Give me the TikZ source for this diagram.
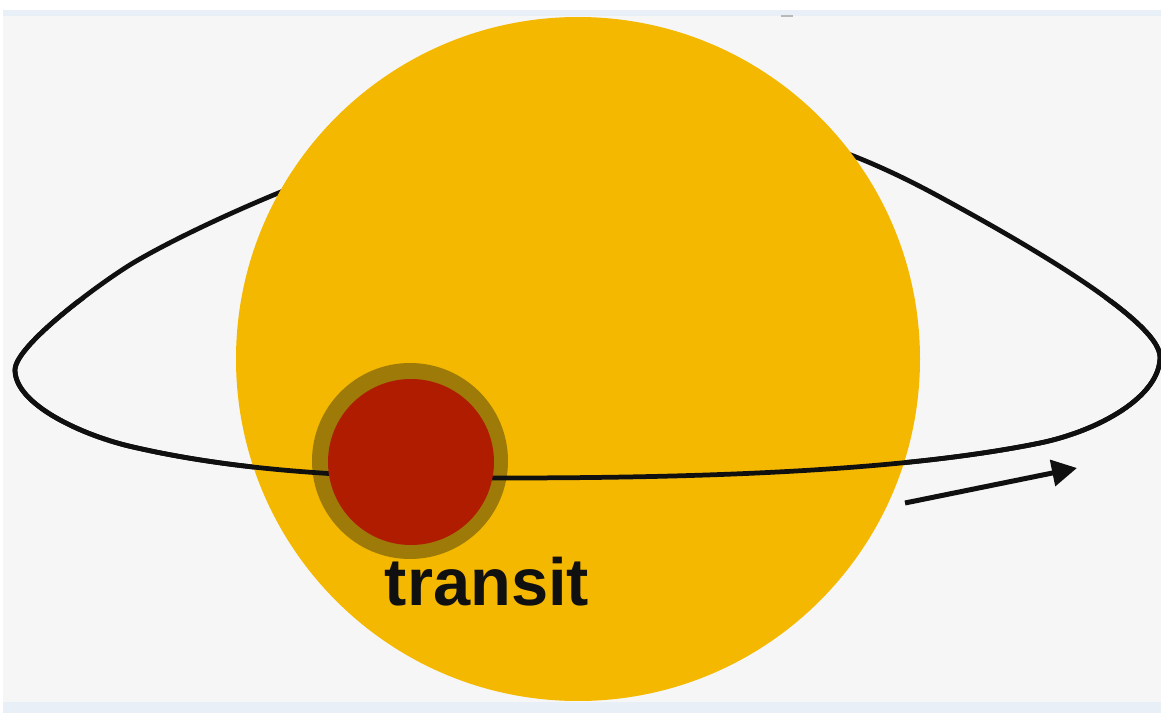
\documentclass[tikz,border=0pt]{standalone}
\usepackage{fontspec}
\newfontfamily\labelfont{Liberation Sans}
\usetikzlibrary{arrows.meta}
\definecolor{sky}{HTML}{F6F6F6}
\definecolor{band}{HTML}{E9EFF6}
\definecolor{star}{HTML}{F5B800}
\definecolor{halo}{HTML}{9E7B08}
\definecolor{planet}{HTML}{B01C00}
\definecolor{ink}{HTML}{101010}

% the orbit as one closed loop (pixel-like units, y down)
\newcommand{\orbitloop}{%
  \draw[orbit] (15,370)
    .. controls (15,345) and (103,281) .. (133,263)
    .. controls (210,217) and (450,110) .. (600,110)
    .. controls (750,110) and (852,149) .. (940,197)
    .. controls (993,226) and (1160,317) .. (1160,357)
    .. controls (1160,397) and (1098,431) .. (1040,443)
    .. controls (893,473) and (680,478) .. (500,478)
    .. controls (380,478) and (250,474) .. (133,447)
    .. controls (84,436) and (15,405) .. (15,370);}

\begin{document}
\begin{tikzpicture}[x=0.02cm, y=-0.02cm,
    orbit/.style={draw=ink, line width=0.095cm, line join=round, line cap=round},
    motion/.style={-{Triangle[length=0.5cm, width=0.52cm]}, draw=ink, line width=0.1cm},
    tag/.style={font=\labelfont\bfseries\fontsize{38}{40}\selectfont, text=ink,
                inner sep=0pt, anchor=base},
  ]
  \useasboundingbox (0,0) rectangle (1161,713);

  % backdrop and the thin bands
  \fill[white] (0,0) rectangle (1161,713);
  \fill[band] (3,10) rectangle (1161,713);
  \fill[sky] (3,16) rectangle (1161,702);
  \fill[gray!55] (781,15) rectangle (793,17.5);

  % far side of the orbit, the star covers it
  \orbitloop
  \fill[star] (578,359) circle[radius=342];
  \node[tag] (label) at (487,605) {transit};

  % the planet with its dark rim
  \fill[halo] (410,461) circle[radius=98];

  % near side of the orbit, over the star
  \begin{scope}
    \clip (0,300) rectangle (1161,713);
    \orbitloop
  \end{scope}
  \fill[planet] (411,462) circle[radius=83];

  % direction of motion
  \coordinate (mstart) at (905,503);
  \coordinate (mend) at (1077,468);
  \draw[motion] (mstart) -- (mend);
\end{tikzpicture}
\end{document}
